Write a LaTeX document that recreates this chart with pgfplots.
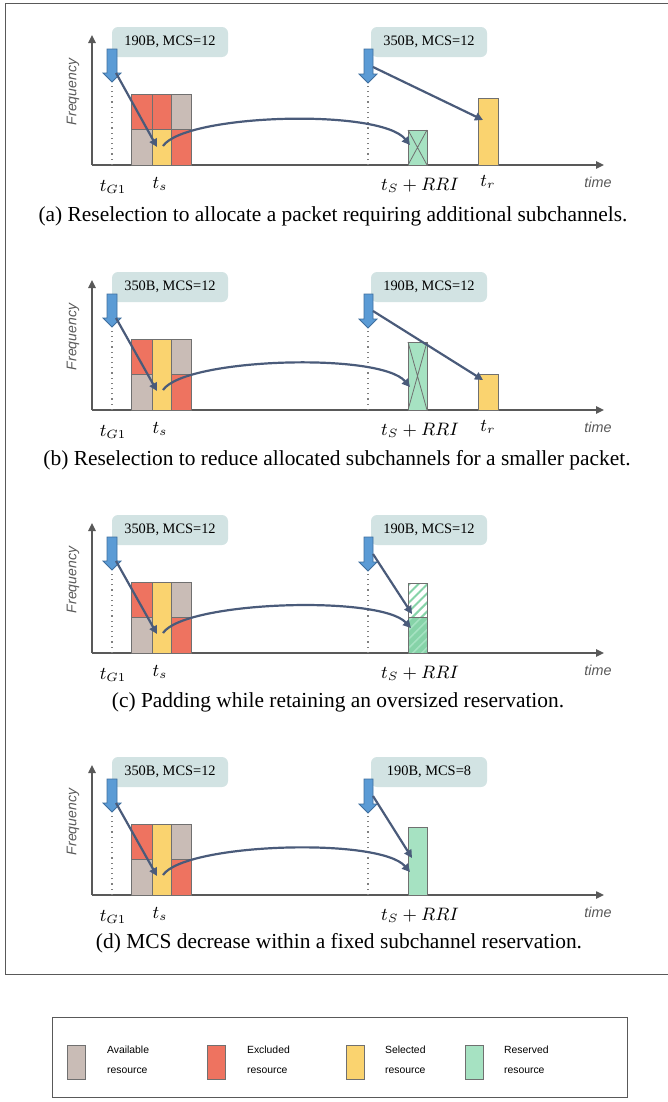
\documentclass[border=0pt]{standalone}
\usepackage{pgfplots}
\pgfplotsset{compat=1.18}
\usepackage{fontspec}
\setmainfont{Liberation Serif}
\setsansfont{Liberation Sans}
\usetikzlibrary{arrows.meta,patterns.meta}

\definecolor{avail}{HTML}{C9BCB6}
\definecolor{excl}{HTML}{EE7360}
\definecolor{sel}{HTML}{FAD36F}
\definecolor{resv}{HTML}{A6E2C2}
\definecolor{hatchgreen}{HTML}{86D3A8}
\definecolor{pktblue}{HTML}{5B9BD5}
\definecolor{pktedge}{HTML}{3E6E9E}
\definecolor{flow}{HTML}{4A5B7A}
\definecolor{axisgray}{HTML}{595959}
\definecolor{tagfill}{HTML}{D2E3E3}
\definecolor{cellline}{HTML}{707070}

% every panel works in the picture's own pixel units (y grows downwards)
\pgfplotsset{
  panel/.style={hide axis, scale only axis, width=334pt, height=122.5pt,
    xmin=0, xmax=668, ymin=0, ymax=245, y dir=reverse, clip=false,
    anchor=north west},
}
\tikzset{flowarrow/.style={flow, line width=1.1pt, -{Triangle[length=4pt,width=4pt]}},
  capfont/.style={font=\fontsize{10.7}{12}\selectfont}}

% one resource block: x1 y1 x2 y2 colour
\newcommand{\cell}[5]{\addplot[draw=cellline, line width=0.5pt, fill=#5]
  coordinates {(#1,#2) (#3,#2) (#3,#4) (#1,#4)} --cycle;}
% reserved block with a cross
\newcommand{\xcell}[4]{\cell{#1}{#2}{#3}{#4}{resv}
  \draw[cellline, line width=0.4pt] (#1,#2) -- (#3,#4) (#3,#2) -- (#1,#4);}

\newcommand{\panelbase}[2]{%
  \draw[axisgray, line width=0.9pt, -{Triangle[length=4pt,width=3.6pt]}] (92,165) -- (92,35);
  \draw[axisgray, line width=0.9pt, -{Triangle[length=4pt,width=3.6pt]}] (92,165) -- (604,165);
  \node[rotate=90, text=axisgray, font=\sffamily\itshape\fontsize{7}{8}\selectfont] at (73,92) {Frequency};
  \node[text=axisgray, font=\sffamily\itshape\fontsize{7.2}{8}\selectfont] at (598,182) {time};
  \draw[gray, dotted, line width=0.6pt] (112,165) -- (112,80);
  \draw[gray, dotted, line width=0.6pt] (368,165) -- (368,80);
  \fill[tagfill, rounded corners=3pt] (112,27) rectangle (228,57);
  \node[font=\fontsize{7.2}{8}\selectfont] at (170,42) {#1};
  \fill[tagfill, rounded corners=3pt] (371,27) rectangle (487,57);
  \node[font=\fontsize{7.2}{8}\selectfont] at (429,42) {#2};
  \draw[pktedge, fill=pktblue, line width=0.4pt] (107,49) -- (117,49) -- (117,73) -- (121,73)
     -- (112,82) -- (103,73) -- (107,73) -- cycle;
  \draw[pktedge, fill=pktblue, line width=0.4pt] (364,49) -- (373,49) -- (373,74) -- (377,74)
     -- (368,83) -- (359,74) -- (364,74) -- cycle;
  \node[font=\fontsize{8.7}{10}\selectfont] at (113,187) {$t_{G1}$};
  \node[font=\fontsize{8.7}{10}\selectfont] at (160,184) {$t_s$};
  \node[font=\fontsize{8.7}{10}\selectfont] at (420,185) {$t_S+RRI$};
}

\begin{document}
\begin{tikzpicture}
\useasboundingbox (0pt,0pt) rectangle (334pt,-551pt);
% frame and legend
\begin{axis}[hide axis, scale only axis, width=334pt, height=551pt,
  xmin=0, xmax=668, ymin=0, ymax=1102, y dir=reverse, clip=false,
  anchor=north west, at={(0pt,0pt)}]
  \draw[axisgray, line width=0.5pt] (5,3) rectangle (675,974);
  \draw[axisgray, line width=0.5pt] (52,1017) rectangle (627,1097);
  \cell{67}{1045}{85}{1079}{avail}
  \cell{207}{1045}{225}{1079}{excl}
  \cell{346}{1045}{364}{1079}{sel}
  \cell{465}{1045}{483}{1079}{resv}
  \node[anchor=west, font=\sffamily\fontsize{5.2}{6}\selectfont] at (100,1050) {Available};
  \node[anchor=west, font=\sffamily\fontsize{5.2}{6}\selectfont] at (100,1071) {resource};
  \node[anchor=west, font=\sffamily\fontsize{5.2}{6}\selectfont] at (240,1050) {Excluded};
  \node[anchor=west, font=\sffamily\fontsize{5.2}{6}\selectfont] at (240,1071) {resource};
  \node[anchor=west, font=\sffamily\fontsize{5.2}{6}\selectfont] at (378,1050) {Selected};
  \node[anchor=west, font=\sffamily\fontsize{5.2}{6}\selectfont] at (378,1071) {resource};
  \node[anchor=west, font=\sffamily\fontsize{5.2}{6}\selectfont] at (497,1050) {Reserved};
  \node[anchor=west, font=\sffamily\fontsize{5.2}{6}\selectfont] at (497,1071) {resource};
\end{axis}

% (a)
\begin{axis}[panel, at={(0pt,0pt)}]
  \panelbase{190B, MCS=12}{350B, MCS=12}
  \cell{131}{94}{152}{129}{excl}  \cell{131}{129}{152}{165}{avail}
  \cell{152}{94}{171}{129}{excl}  \cell{152}{129}{171}{165}{sel}
  \cell{171}{94}{191}{129}{avail} \cell{171}{129}{191}{165}{excl}
  \xcell{408}{130}{427}{165}
  \cell{478}{98}{498}{165}{sel}
  \draw[flowarrow] (116,73) -- (157,147);
  \draw[flowarrow] (163,146) .. controls (185,114) and (380,108) .. (410,145);
  \draw[flowarrow] (373,67) -- (483,120);
  \node[font=\fontsize{8.7}{10}\selectfont] at (488,182) {$t_r$};
  \node[capfont] at (333,216) {(a) Reselection to allocate a packet requiring additional subchannels.};
\end{axis}

% (b)
\begin{axis}[panel, at={(0pt,-122.5pt)}]
  \panelbase{350B, MCS=12}{190B, MCS=12}
  \cell{131}{94}{152}{129}{excl}  \cell{131}{129}{152}{165}{avail}
  \cell{152}{94}{171}{165}{sel}
  \cell{171}{94}{191}{129}{avail} \cell{171}{129}{191}{165}{excl}
  \xcell{408}{97}{427}{165}
  \cell{478}{129}{498}{165}{sel}
  \draw[flowarrow] (116,73) -- (157,146);
  \draw[flowarrow] (163,145) .. controls (185,113) and (380,107) .. (410,142);
  \draw[flowarrow] (373,66) -- (483,135);
  \node[font=\fontsize{8.7}{10}\selectfont] at (488,182) {$t_r$};
  \node[capfont] at (337,215) {(b) Reselection to reduce allocated subchannels for a smaller packet.};
\end{axis}

% (c)
\begin{axis}[panel, at={(0pt,-244pt)}]
  \panelbase{350B, MCS=12}{190B, MCS=12}
  \cell{131}{94}{152}{129}{excl}  \cell{131}{129}{152}{165}{avail}
  \cell{152}{94}{171}{165}{sel}
  \cell{171}{94}{191}{129}{avail} \cell{171}{129}{191}{165}{excl}
  \addplot[draw=cellline, line width=0.5pt, fill=white,
    postaction={pattern={Lines[angle=45,distance=3.2pt,line width=1pt]}, pattern color=hatchgreen}]
    coordinates {(408,95) (427,95) (427,129) (408,129)} --cycle;
  \addplot[draw=cellline, line width=0.5pt, fill=hatchgreen,
    postaction={pattern={Lines[angle=45,distance=3.2pt,line width=0.8pt]}, pattern color=resv}]
    coordinates {(408,129) (427,129) (427,165) (408,165)} --cycle;
  \draw[flowarrow] (116,73) -- (157,146);
  \draw[flowarrow] (163,145) .. controls (185,113) and (380,107) .. (411,140);
  \draw[flowarrow] (373,66) -- (412,126);
  \node[capfont] at (338,214) {(c) Padding while retaining an oversized reservation.};
\end{axis}

% (d)
\begin{axis}[panel, at={(0pt,-365pt)}]
  \panelbase{350B, MCS=12}{190B, MCS=8}
  \cell{131}{94}{152}{129}{excl}  \cell{131}{129}{152}{165}{avail}
  \cell{152}{94}{171}{165}{sel}
  \cell{171}{94}{191}{129}{avail} \cell{171}{129}{191}{165}{excl}
  \cell{408}{97}{427}{165}{resv}
  \draw[flowarrow] (116,73) -- (157,146);
  \draw[flowarrow] (163,145) .. controls (185,113) and (380,107) .. (410,142);
  \draw[flowarrow] (373,66) -- (412,128);
  \node[capfont] at (339,213) {(d) MCS decrease within a fixed subchannel reservation.};
\end{axis}
\end{tikzpicture}
\end{document}
